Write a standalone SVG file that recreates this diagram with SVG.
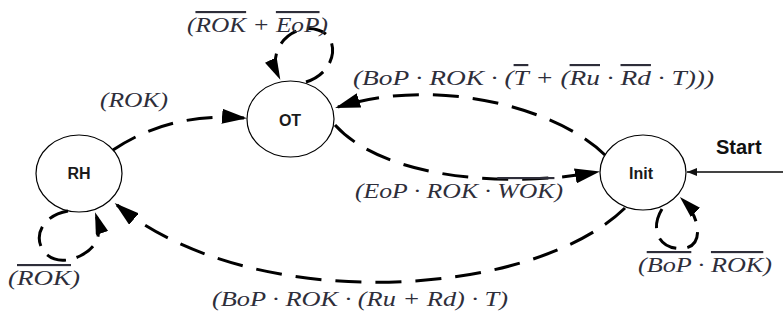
<svg xmlns="http://www.w3.org/2000/svg" width="783" height="320" viewBox="0 0 783 320">
  <defs>
    <style>
      .node { fill: #ffffff; stroke: #000000; stroke-width: 1.2; }
      .nlbl { font-family: "Liberation Sans", Arial, sans-serif; font-weight: bold; font-size: 16px; fill: #1a1a1a; text-anchor: middle; }
      .edge { fill: none; stroke: #000000; stroke-width: 3; stroke-dasharray: 26 14; }
      .loop { fill: none; stroke: #000000; stroke-width: 3; stroke-dasharray: 20 11; }
      .start { fill: none; stroke: #444444; stroke-width: 1.8; }
      .lbl { font-family: "Liberation Serif", "Times New Roman", serif; font-style: italic; font-size: 21.5px; fill: #2e2e3a; }
      .ov { text-decoration: overline; }
      .slbl { font-family: "Liberation Sans", Arial, sans-serif; font-weight: bold; font-size: 20px; fill: #111111; }
    </style>
    <marker id="ah" viewBox="0 0 25 15" refX="22" refY="7.5" markerWidth="25" markerHeight="15" markerUnits="userSpaceOnUse" orient="auto">
      <path d="M0,0 L25,7.5 L0,15 z" fill="#000000"/>
    </marker>
    <marker id="ahs" viewBox="0 0 22 13" refX="19" refY="6.5" markerWidth="22" markerHeight="13" markerUnits="userSpaceOnUse" orient="auto">
      <path d="M0,0 L22,6.5 L0,13 z" fill="#000000"/>
    </marker>
    <marker id="ahstart" viewBox="0 0 10 8" refX="10" refY="4" markerWidth="10" markerHeight="8" markerUnits="userSpaceOnUse" orient="auto">
      <path d="M0,0 L10,4 L0,8 z" fill="#111111"/>
    </marker>
  </defs>

  <g id="node-RH">
    <ellipse class="node" cx="79" cy="173.5" rx="43" ry="38.5"/>
    <text class="nlbl" x="79" y="179">RH</text>
  </g>
  <g id="node-OT">
    <ellipse class="node" cx="290.5" cy="119" rx="43.5" ry="38"/>
    <text class="nlbl" x="290" y="126">OT</text>
  </g>
  <g id="node-Init">
    <ellipse class="node" cx="643" cy="172.5" rx="43" ry="37.5"/>
    <text class="nlbl" x="641" y="179">Init</text>
  </g>

  <g id="connectors">
    <path id="e-RH-OT" class="edge" d="M 113,150 Q 170,112 244,118" marker-end="url(#ah)"/>
    <path id="e-OT-OT" class="loop" d="M 306,82 C 338,72 340,36 318,30 C 294,22 265,48 279,77" marker-end="url(#ahs)"/>
    <path id="e-Init-OT" class="edge" d="M 605,155 C 560,110 440,75 338,107" marker-end="url(#ah)"/>
    <path id="e-OT-Init" class="edge" d="M 335,125 C 385,180 510,188 597,172" marker-end="url(#ah)"/>
    <path id="e-Init-RH" class="edge" d="M 625,208 C 530,300 250,315 117,205" marker-end="url(#ah)"/>
    <path id="e-RH-RH" class="loop" d="M 68,211 C 20,220 38,276 80,256 C 96,248 103,236 96,215" marker-end="url(#ahs)"/>
    <path id="e-Init-Init" class="loop" d="M 662,209 C 648,232 662,252 686,248 C 703,244 701,218 682,199" marker-end="url(#ahs)"/>
    <path id="e-start" class="start" d="M 783,172 L 687,172" marker-end="url(#ahstart)"/>
    <text class="slbl" x="716" y="154">Start</text>
  </g>

  <g id="labels">
    <text class="lbl" x="187" y="32" textLength="141" lengthAdjust="spacingAndGlyphs">(<tspan class="ov">ROK</tspan> + <tspan class="ov">EoP</tspan>)</text>
    <text class="lbl" x="100" y="107" textLength="68" lengthAdjust="spacingAndGlyphs">(ROK)</text>
    <text class="lbl" x="353" y="85" textLength="361" lengthAdjust="spacingAndGlyphs">(BoP · ROK · (<tspan class="ov">T</tspan> + (<tspan class="ov">Ru</tspan> · <tspan class="ov">Rd</tspan> · T)))</text>
    <text class="lbl" x="355" y="198" textLength="208" lengthAdjust="spacingAndGlyphs">(EoP · ROK · <tspan class="ov">WOK</tspan>)</text>
    <text class="lbl" x="8" y="285" textLength="72" lengthAdjust="spacingAndGlyphs">(<tspan class="ov">ROK</tspan>)</text>
    <text class="lbl" x="212" y="306" textLength="296" lengthAdjust="spacingAndGlyphs">(BoP · ROK · (Ru + Rd) · T)</text>
    <text class="lbl" x="638" y="272" textLength="134" lengthAdjust="spacingAndGlyphs">(<tspan class="ov">BoP</tspan> · <tspan class="ov">ROK</tspan>)</text>
  </g>
</svg>
